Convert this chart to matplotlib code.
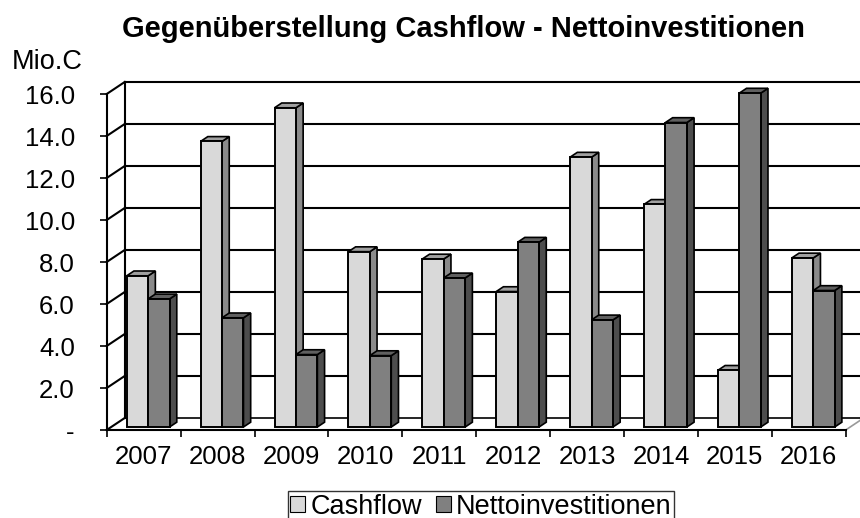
# Gegenüberstellung Cashflow - Nettoinvestitionen (pseudo-3D columns)

import matplotlib
matplotlib.use('Agg')
import matplotlib.pyplot as plt
from matplotlib.patches import Polygon, Patch

plt.rcParams['font.family'] = ['Liberation Sans', 'DejaVu Sans']

# Data
years = ['2007', '2008', '2009', '2010', '2011', '2012', '2013', '2014', '2015', '2016']
cashflow = [7.2, 13.6, 15.2, 8.35, 8.0, 6.45, 12.85, 10.6, 2.7, 8.05]
netto = [6.1, 5.2, 3.45, 3.4, 7.1, 8.8, 5.1, 14.5, 15.9, 6.5]
yticks = [0, 2, 4, 6, 8, 10, 12, 14, 16]
ytick_labels = ['-', '2.0', '4.0', '6.0', '8.0', '10.0', '12.0', '14.0', '16.0']

# colours: front, top, side
c_cash = ('#d9d9d9', '#a0a0a0', '#8a8a8a')
c_net = ('#808080', '#606060', '#4d4d4d')

# depth of the 3d box in data units
DX = 18 / 73.9
DY = 12 / 21.0
F0 = 0.25      # bar front position inside floor depth
FD = 0.4       # bar depth
W = 0.29       # bar width

fig = plt.figure(figsize=(8.6, 5.18), dpi=100)
x0 = 106.7
ax = fig.add_axes([x0 / 860, 88 / 518, (860 - x0) / 860, 357 / 518])
ax.set_xlim(0, (860 - x0) / 73.9)
ax.set_ylim(0, 17)

# back wall gridlines and left wall
for v in yticks:
    ax.plot([0, DX], [v, v + DY], color='black', lw=1.5, clip_on=False, zorder=1)
    if v > 0:
        ax.plot([DX, 20], [v + DY, v + DY], color='black', lw=1.5, clip_on=False, zorder=1)
ax.plot([DX, DX], [DY, 16 + DY], color='black', lw=1.5, clip_on=False, zorder=1)
# floor
ax.plot([DX, 20], [DY, DY], color='black', lw=1.2, clip_on=False, zorder=1)
ax.plot([10, 10 + 1.0 * DX], [0, DY], color='#999999', lw=1.2, clip_on=False, zorder=1)


def draw_bar(xl, v, cols):
    bx = xl + F0 * DX
    by = F0 * DY
    ddx, ddy = FD * DX, FD * DY
    side = Polygon([(bx + W, by), (bx + W + ddx, by + ddy), (bx + W + ddx, by + v + ddy), (bx + W, by + v)],
                   closed=True, fc=cols[2], ec='black', lw=1.2, clip_on=False, zorder=3)
    top = Polygon([(bx, by + v), (bx + ddx, by + v + ddy), (bx + W + ddx, by + v + ddy), (bx + W, by + v)],
                  closed=True, fc=cols[1], ec='black', lw=1.2, clip_on=False, zorder=3)
    front = Polygon([(bx, by), (bx + W, by), (bx + W, by + v), (bx, by + v)],
                    closed=True, fc=cols[0], ec='black', lw=1.4, clip_on=False, zorder=3)
    for p in (side, top, front):
        ax.add_patch(p)


for i in range(len(years)):
    left = i + 0.5 - W
    draw_bar(left, cashflow[i], c_cash)
    draw_bar(left + W, netto[i], c_net)

# axes styling
for s in ['top', 'right']:
    ax.spines[s].set_visible(False)
ax.spines['left'].set_bounds(0, 16)
ax.spines['bottom'].set_bounds(0, 10)
ax.spines['left'].set_linewidth(1.5)
ax.spines['bottom'].set_linewidth(1.5)
ax.spines['left'].set_zorder(2)
ax.spines['bottom'].set_zorder(2)

ax.set_yticks(yticks)
ax.set_yticklabels(ytick_labels, fontsize=18.5)
ax.tick_params(axis='y', length=5, width=1.2, pad=18)
ax.set_xticks(range(11))
ax.set_xticklabels([])
ax.tick_params(axis='x', which='major', length=5, width=1.2)
ax.set_xticks([i + 0.5 for i in range(10)], minor=True)
ax.set_xticklabels(years, minor=True, fontsize=18.5)
ax.tick_params(axis='x', which='minor', length=0, pad=11)

fig.text(463 / 860, 1 - 29 / 518, 'Gegenüberstellung Cashflow - Nettoinvestitionen',
         ha='center', va='center', fontsize=21, fontweight='bold')
fig.text(12 / 860, 1 - 62 / 518, 'Mio.C', ha='left', va='center', fontsize=19.5)

handles = [Patch(fc=c_cash[0], ec='black', lw=0.8, label='Cashflow'),
           Patch(fc=c_net[0], ec='black', lw=0.8, label='Nettoinvestitionen')]
leg = fig.legend(handles=handles, loc='upper center', bbox_to_anchor=(481 / 860, 1 - 491 / 518),
                 ncol=2, fontsize=19.5, frameon=True, fancybox=False, handlelength=0.55, handleheight=0.55,
                 handletextpad=0.2, columnspacing=0.5, borderpad=0.1, borderaxespad=0)
leg.get_frame().set_edgecolor('black')
leg.get_frame().set_linewidth(1.0)

fig.savefig('out.png', dpi=100)
